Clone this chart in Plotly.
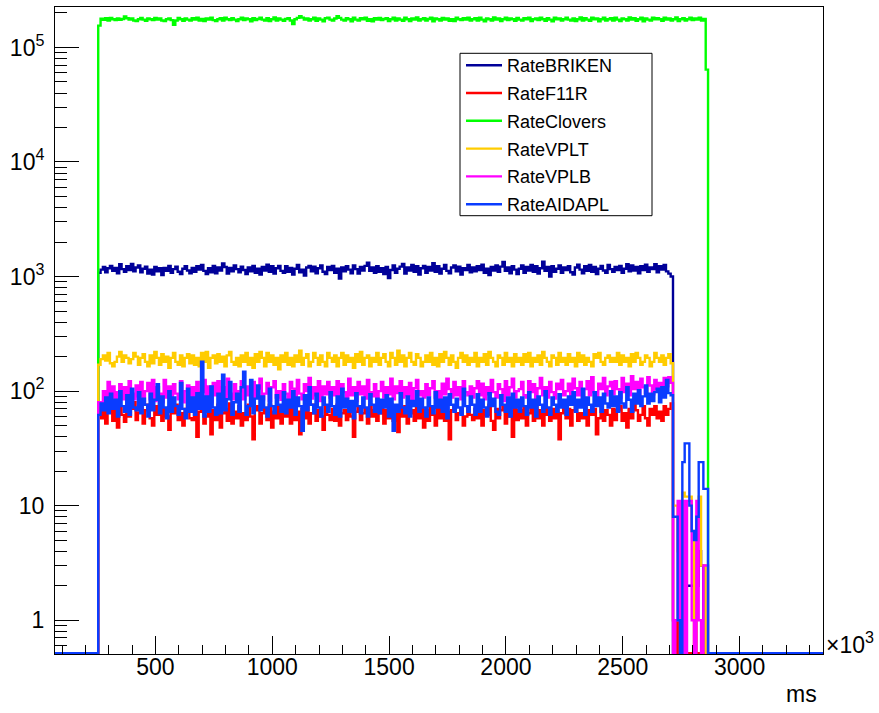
import plotly.graph_objects as go

# ---------------- data ----------------
x_axis_min = 70
x_axis_max = 3357
first_edge = 255
bin_width = 10

briken_main = [
    1080, 1150, 1210, 1090, 1180, 1240, 1120, 1190, 1070, 1280, 1160, 1100, 1230, 1140, 1290, 1110, 1200, 1250, 1090, 1170,
    1220, 1060, 1150, 1040, 1210, 1110, 1180, 1030, 1190, 1120, 1240, 1080, 1160, 1220, 1100, 1050, 1170, 1230, 1130, 1070,
    1190, 1100, 1230, 1150, 1260, 1120, 1050, 1180, 1090, 1240, 1070, 1200, 1130, 1300, 1210, 1060, 1190, 1110, 1250, 1160,
    1090, 1220, 1140, 1050, 1200, 1110, 1240, 1080, 1170, 1040, 1210, 1130, 1270, 1100, 1230, 1060, 1180, 1240, 1120, 1080,
    1230, 1100, 1190, 1040, 1170, 1260, 1090, 1150, 1020, 1200, 1240, 1110, 1220, 1070, 1180, 1250, 1100, 1050, 1210, 1140,
    1240, 1080, 1170, 960, 1200, 1110, 1230, 1150, 1070, 1250, 1160, 1060, 1210, 1130, 1240, 1320, 1120, 1200, 1080, 1230,
    1100, 1180, 1050, 1210, 970, 1140, 1250, 1080, 1170, 1220, 1290, 1060, 1200, 1130, 1260, 1100, 1230, 1040, 1180, 1240,
    1080, 1210, 1130, 1310, 1100, 1230, 1060, 1170, 1260, 1120, 1070, 1200, 1250, 1110, 1220, 1040, 1180, 1140, 1260, 1090,
    1200, 1110, 1230, 1140, 1270, 1080, 1170, 1030, 1210, 1130, 1250, 1100, 1220, 1340, 1120, 1200, 1070, 1230, 1150, 1050,
    1170, 1250, 1080, 1210, 1130, 1260, 1100, 1230, 1060, 1180, 1350, 1120, 1210, 1000, 1230, 1100, 1170, 1250, 1080, 1200,
    1140, 1230, 1090, 1040, 1200, 1270, 1150, 1070, 1230, 1120, 1260, 1100, 1210, 1050, 1170, 1240, 1130, 1080, 1260, 1160,
    1100, 1210, 1140, 1240, 1080, 1170, 1280, 1110, 1250, 1130, 1210, 1070, 1230, 1140, 1270, 1100, 1200, 1160, 1280, 1090,
    1230, 1150, 1260, 1110, 1060, 1000,
]
briken_tail = [0, 0, 0, 0, 2, 2, 2, 2, 2, 2, 2, 4, 3, 0, 0]

f11r_main = [
    72, 58, 78, 52, 66, 75, 55, 70, 48, 74, 62, 54, 76, 60, 70, 80, 56, 65, 74, 52,
    68, 76, 58, 50, 74, 62, 78, 55, 70, 60, 46, 74, 64, 76, 56, 64, 50, 70, 78, 58,
    56, 70, 40, 66, 76, 52, 60, 74, 42, 68, 56, 76, 48, 64, 70, 55, 78, 52, 66, 58,
    74, 50, 64, 56, 76, 60, 38, 68, 74, 52, 64, 70, 56, 76, 48, 66, 58, 74, 52, 68,
    60, 72, 52, 76, 56, 66, 42, 70, 58, 74, 52, 64, 76, 55, 68, 60, 46, 74, 62, 56,
    70, 55, 76, 50, 64, 68, 56, 74, 60, 40, 66, 74, 56, 64, 70, 52, 76, 60, 68, 55,
    64, 74, 52, 68, 58, 76, 55, 66, 44, 70, 60, 74, 52, 64, 68, 55, 76, 58, 70, 48,
    68, 55, 74, 62, 50, 70, 58, 76, 55, 66, 38, 68, 74, 56, 64, 70, 50, 60, 74, 62,
    56, 70, 58, 74, 50, 68, 62, 76, 55, 46, 70, 58, 68, 74, 52, 64, 60, 40, 70, 56,
    68, 58, 74, 50, 64, 70, 55, 76, 58, 68, 50, 74, 62, 55, 70, 58, 68, 38, 64, 74,
    58, 70, 50, 68, 74, 55, 64, 58, 76, 50, 68, 62, 70, 42, 58, 74, 55, 68, 62, 50,
    70, 56, 68, 74, 55, 64, 48, 70, 58, 76, 68, 55, 62, 74, 58, 50, 70, 62, 74, 58,
    66, 55, 74, 62, 70, 78,
]
f11r_tail = [1, 0, 1, 0, 1, 0, 0, 0, 0, 1, 0, 0, 0, 0, 0]

clovers = [
    155000, 178000, 174000, 180000, 172000, 181000, 176000, 173000, 179000, 174000, 177000, 186000, 180000, 175000, 179000, 172000, 170000, 176000, 181000, 175000,
    171000, 179000, 176000, 173000, 181000, 175000, 179000, 172000, 170000, 176000, 179000, 173000, 158000, 172000, 181000, 176000, 171000, 179000, 175000, 172000,
    180000, 175000, 182000, 172000, 177000, 170000, 179000, 175000, 182000, 173000, 170000, 176000, 180000, 172000, 182000, 176000, 173000, 180000, 175000, 170000,
    176000, 182000, 173000, 179000, 176000, 169000, 180000, 173000, 177000, 182000, 175000, 172000, 180000, 170000, 176000, 183000, 172000, 179000, 175000, 171000,
    177000, 180000, 172000, 160000, 176000, 181000, 187000, 182000, 175000, 179000, 172000, 176000, 182000, 171000, 179000, 175000, 169000, 180000, 182000, 175000,
    172000, 179000, 187000, 181000, 175000, 172000, 180000, 176000, 169000, 182000, 175000, 172000, 180000, 176000, 182000, 171000, 176000, 169000, 180000, 175000,
    181000, 173000, 177000, 180000, 170000, 176000, 182000, 172000, 179000, 175000, 171000, 182000, 176000, 170000, 179000, 175000, 183000, 172000, 176000, 180000,
    172000, 177000, 182000, 169000, 179000, 176000, 172000, 181000, 175000, 179000, 171000, 176000, 170000, 182000, 176000, 173000, 180000, 175000, 182000, 172000,
    176000, 180000, 172000, 182000, 175000, 169000, 179000, 176000, 172000, 183000, 175000, 179000, 170000, 176000, 182000, 173000, 179000, 176000, 171000, 181000,
    175000, 172000, 180000, 176000, 182000, 170000, 176000, 179000, 173000, 182000, 176000, 171000, 180000, 175000, 169000, 182000, 176000, 179000, 172000, 176000,
    182000, 175000, 172000, 179000, 170000, 176000, 183000, 172000, 180000, 175000, 171000, 182000, 176000, 179000, 169000, 176000, 182000, 172000, 176000, 180000,
    172000, 182000, 175000, 170000, 179000, 176000, 172000, 183000, 175000, 180000, 171000, 176000, 182000, 169000, 179000, 175000, 172000, 182000, 176000, 180000,
    176000, 171000, 182000, 175000, 179000, 172000, 176000, 183000, 170000, 176000, 180000, 172000, 176000, 182000, 173000, 179000, 175000, 182000, 172000, 177000,
    64000,
]

vplt_main = [
    170, 190, 205, 185, 215, 175, 165, 180, 200, 220, 180, 205, 195, 175, 190, 215, 200, 170, 195, 210,
    180, 165, 205, 175, 220, 195, 170, 210, 180, 200, 160, 195, 215, 180, 170, 205, 165, 195, 210, 175,
    205, 170, 195, 165, 215, 180, 220, 160, 195, 205, 175, 210, 180, 200, 165, 205, 220, 180, 170, 195,
    165, 205, 180, 215, 170, 195, 160, 210, 180, 220, 195, 165, 215, 180, 205, 170, 195, 155, 205, 180,
    215, 170, 195, 165, 205, 180, 225, 170, 195, 210, 165, 180, 215, 195, 170, 205, 180, 165, 215, 195,
    180, 205, 165, 195, 215, 170, 205, 180, 195, 160, 210, 180, 220, 170, 195, 205, 165, 195, 180, 215,
    170, 195, 210, 180, 165, 215, 195, 170, 225, 180, 205, 165, 195, 215, 180, 170, 210, 195, 165, 180,
    205, 180, 215, 170, 195, 165, 210, 180, 220, 195, 170, 205, 180, 160, 195, 215, 180, 205, 170, 195,
    180, 215, 165, 195, 180, 210, 170, 220, 195, 180, 165, 205, 195, 170, 215, 180, 195, 165, 210, 180,
    195, 170, 210, 180, 215, 165, 195, 180, 205, 170, 220, 195, 180, 165, 205, 195, 170, 215, 180, 195,
    170, 210, 180, 195, 165, 215, 180, 205, 170, 195, 180, 165, 210, 195, 215, 180, 170, 195, 205, 180,
    195, 180, 215, 170, 205, 180, 195, 165, 210, 180, 215, 195, 170, 180, 205, 195, 165, 180, 215, 195,
    180, 205, 170, 195, 210, 175,
]
vplt_tail = [10, 10, 4, 2, 13, 12, 12, 12, 6, 1, 5, 12, 3, 3, 0]

vplb_main = [
    80, 75, 100, 85, 120, 88, 110, 80, 98, 115, 85, 108, 78, 122, 95, 85, 112, 90, 120, 82,
    100, 118, 85, 125, 82, 108, 95, 80, 125, 88, 110, 82, 115, 95, 85, 122, 80, 100, 112, 86,
    108, 88, 120, 82, 98, 125, 85, 110, 80, 118, 92, 122, 84, 108, 88, 128, 95, 85, 115, 82,
    100, 122, 85, 110, 92, 78, 120, 88, 105, 128, 85, 95, 118, 82, 108, 122, 88, 100, 84, 115,
    95, 82, 120, 105, 88, 125, 95, 85, 115, 100, 130, 86, 108, 92, 122, 82, 110, 94, 120, 88,
    108, 92, 122, 85, 115, 98, 88, 128, 92, 108, 82, 120, 94, 110, 86, 125, 98, 90, 115, 86,
    100, 120, 88, 108, 94, 128, 85, 110, 96, 122, 88, 108, 92, 118, 82, 106, 125, 92, 100, 88,
    115, 92, 106, 122, 88, 100, 82, 116, 94, 128, 104, 88, 120, 92, 108, 85, 122, 98, 92, 110,
    88, 106, 122, 92, 116, 85, 108, 94, 125, 98, 88, 115, 104, 82, 122, 92, 108, 128, 88, 100,
    104, 120, 92, 88, 122, 98, 115, 86, 106, 130, 92, 108, 88, 120, 98, 86, 116, 104, 125, 92,
    100, 116, 88, 128, 106, 92, 120, 86, 104, 122, 92, 132, 98, 88, 116, 104, 130, 92, 110, 120,
    94, 122, 104, 88, 130, 98, 116, 92, 135, 104, 120, 92, 128, 108, 96, 132, 112, 94, 125, 104,
    118, 96, 130, 110, 132, 118,
]
vplb_tail = [0, 1, 11, 0, 11, 0, 11, 11, 1, 0, 11, 1, 0, 3, 3]

aidapl_main = [
    62, 78, 68, 88, 64, 95, 70, 84, 60, 100, 74, 66, 92, 62, 105, 72, 68, 98, 64, 86,
    76, 60, 95, 68, 84, 115, 64, 90, 72, 58, 100, 66, 88, 74, 62, 118, 70, 58, 105, 66,
    88, 62, 96, 70, 181, 60, 90, 66, 110, 72, 62, 95, 64, 139, 68, 85, 120, 62, 80, 95,
    66, 108, 148, 62, 74, 125, 64, 86, 112, 68, 90, 72, 60, 105, 74, 64, 92, 76, 66, 98,
    64, 84, 72, 100, 62, 88, 74, 45, 92, 68, 108, 76, 64, 95, 72, 60, 88, 76, 66, 98,
    74, 62, 90, 60, 105, 72, 86, 66, 82, 58, 96, 74, 64, 88, 72, 60, 94, 76, 66, 86,
    64, 84, 72, 92, 60, 86, 45, 76, 66, 96, 72, 64, 90, 60, 82, 74, 100, 66, 86, 72,
    60, 88, 74, 64, 98, 72, 84, 66, 88, 58, 94, 76, 66, 86, 72, 62, 105, 74, 66, 90,
    76, 62, 94, 66, 84, 72, 60, 96, 74, 86, 66, 62, 92, 76, 66, 88, 60, 95, 72, 84,
    66, 88, 74, 62, 98, 72, 84, 60, 90, 76, 66, 100, 72, 62, 88, 76, 66, 94, 72, 84,
    62, 90, 76, 98, 66, 84, 72, 105, 62, 88, 76, 66, 98, 74, 88, 66, 95, 78, 72, 100,
    74, 90, 66, 98, 78, 72, 108, 84, 66, 95, 78, 102, 74, 90, 112, 78, 95, 82, 98, 105,
    80, 108, 88, 125, 96, 92,
]
aidapl_tail = [8, 8, 1, 0, 24, 35, 35, 10, 6, 5, 8, 24, 24, 14, 14]

names = ["RateBRIKEN", "RateF11R", "RateClovers", "RateVPLT", "RateVPLB", "RateAIDAPL"]
colors = ["#000099", "#ff0000", "#00ff00", "#ffcc00", "#ff00ff", "#0a3cff"]

x_tick_vals = [500, 1000, 1500, 2000, 2500, 3000]
y_tick_vals = [1, 10, 100, 1000, 10000, 100000]
y_tick_text = ["1", "10", "10<sup>2</sup>", "10<sup>3</sup>", "10<sup>4</sup>", "10<sup>5</sup>"]
y_range_log = [-0.295, 5.353]

series = [
    briken_main + briken_tail,
    f11r_main + f11r_tail,
    clovers,
    vplt_main + vplt_tail,
    vplb_main + vplb_tail,
    aidapl_main + aidapl_tail,
]

# empty bins are drawn on the bottom edge of the frame, as ROOT does on a log axis
FLOOR = 10 ** y_range_log[0] * 1.015


def step_xy(vals):
    n = len(vals)
    edges = [first_edge + bin_width * i for i in range(n + 1)]
    xs = [x_axis_min] + edges + [x_axis_max]
    ys = [0] + list(vals) + [0, 0]
    ys = [v if v > 0 else FLOOR for v in ys]
    return xs, ys


fig = go.Figure()
for name, col, vals in zip(names, colors, series):
    xs, ys = step_xy(vals)
    fig.add_trace(go.Scatter(
        x=xs, y=ys, mode="lines", name=name, legendgroup=name,
        line=dict(color=col, width=2.4, shape="hv"),
        hoverinfo="skip",
    ))

# minor log ticks for y
minor_y = []
for k in range(-1, 6):
    for m in range(2, 10):
        v = m * 10 ** k
        if 10 ** y_range_log[0] <= v <= 10 ** y_range_log[1]:
            minor_y.append(v)

fig.add_trace(go.Scatter(x=[None], y=[None], yaxis="y2", showlegend=False, hoverinfo="skip"))

font_main = "Liberation Sans, Arial, Helvetica, sans-serif"
L, R, T, B = 55, 823, 7, 654
PW, PH = R - L, B - T

fig.update_layout(
    width=879, height=713,
    margin=dict(l=L, r=879 - R, t=T, b=713 - B),
    paper_bgcolor="white", plot_bgcolor="white",
    font=dict(family=font_main, color="black", size=23),
    showlegend=True,
    legend=dict(
        x=(461 - L) / PW, y=(B - 47) / PH, xanchor="left", yanchor="top",
        bgcolor="rgba(0,0,0,0)", borderwidth=0,
        font=dict(family=font_main, size=18, color="black"),
        tracegroupgap=1.4,
        itemwidth=36,
    ),
    xaxis=dict(
        range=[x_axis_min, x_axis_max], automargin=False,
        showgrid=False, zeroline=False,
        showline=True, mirror=True, linecolor="black", linewidth=1,
        ticks="inside", ticklen=18, tickwidth=1, tickcolor="black",
        tickmode="array", tickvals=x_tick_vals,
        tickfont=dict(size=23), ticklabelstandoff=-8,
        minor=dict(ticks="inside", ticklen=9, tickwidth=1, tickcolor="black", dtick=100, tick0=0),
    ),
    yaxis=dict(
        type="log", range=y_range_log, automargin=False,
        showgrid=False, zeroline=False,
        showline=True, mirror=True, linecolor="black", linewidth=1,
        ticks="inside", ticklen=24, tickwidth=1, tickcolor="black",
        tickmode="array", tickvals=y_tick_vals, ticktext=y_tick_text,
        tickfont=dict(size=23), ticklabelstandoff=5,
    ),
    yaxis2=dict(
        type="log", range=y_range_log, overlaying="y", side="left", anchor="x",
        automargin=False,
        showgrid=False, zeroline=False, showline=False,
        ticks="inside", ticklen=12, tickwidth=1, tickcolor="black",
        tickmode="array", tickvals=minor_y, showticklabels=False,
    ),
    shapes=[dict(
        type="rect", xref="paper", yref="paper",
        x0=(460 - L) / PW, x1=(652 - L) / PW,
        y0=(B - 215.7) / PH, y1=(B - 53.3) / PH,
        line=dict(color="black", width=1), fillcolor="white", layer="below",
    )],
    annotations=[
        dict(text="ms", xref="paper", yref="paper", x=1.0, y=(B - 694) / PH,
             xanchor="right", yanchor="middle", showarrow=False, xshift=-4,
             font=dict(size=23)),
        dict(text="\u00d710<sup>3</sup>", xref="paper", yref="paper", x=1.0, y=0.0,
             xanchor="left", yanchor="bottom", showarrow=False, xshift=1, yshift=-6,
             font=dict(size=23)),
    ],
)

fig.write_html("out.html", config={"displayModeBar": False},
               post_script="document.body.style.margin='0px';")
